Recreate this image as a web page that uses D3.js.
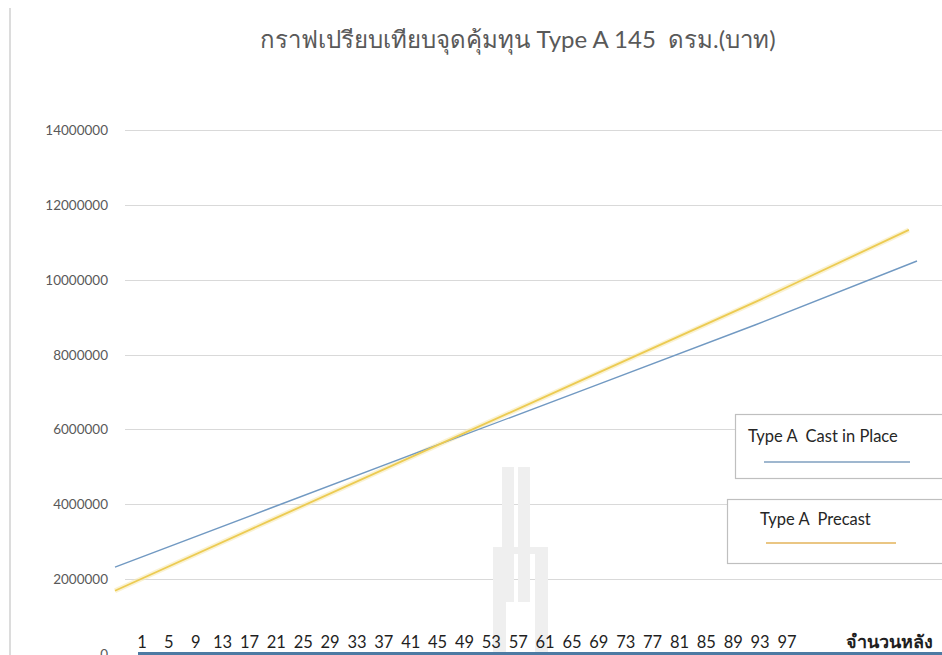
<!DOCTYPE html>
<html>
<head>
<meta charset="utf-8">
<script src="https://cdn.jsdelivr.net/npm/d3@7"></script>
<style>
  html, body { margin: 0; padding: 0; background: #fff; }
  svg { display: block; }
  text { font-family: "Lato", "Noto Sans", "DejaVu Sans", sans-serif; white-space: pre; }
</style>
</head>
<body>
<svg id="chart" width="942" height="655"></svg>
<script>
// Break-even comparison, Type A 145 sq.m. (baht)
const titleText = "กราฟเปรียบเทียบจุดคุ้มทุน Type A 145  ดรม.(บาท)";
const xAxisTitle = "จำนวนหลัง";

// category labels along the bottom axis (number of houses)
const houseTicks = [1, 5, 9, 13, 17, 21, 25, 29, 33, 37, 41, 45, 49, 53, 57, 61, 65, 69, 73, 77, 81, 85, 89, 93, 97];

// value axis ticks
const yTicks = [0, 2000000, 4000000, 6000000, 8000000, 10000000, 12000000, 14000000];

// cumulative cost by number of houses
const castHouses = [1, 20, 40, 60, 80, 100];
const castValues = [2320000, 3880000, 5520000, 7150000, 8790000, 10500000];
const precastHouses = [1, 20, 40, 60, 80, 99];
const precastValues = [1690000, 3550000, 5500000, 7450000, 9400000, 11330000];

const seriesNames = ["Type A  Cast in Place", "Type A  Precast"];
const seriesColors = ["#7199c2", "#eccb52"];
const legendLineColors = ["#7f9fbf", "#e3b35a"];

const svg = d3.select("#chart");
const W = 942, H = 655;

// faint frame line down the left edge
svg.append("line")
  .attr("x1", 10).attr("x2", 10).attr("y1", 8).attr("y2", H)
  .attr("stroke", "#dcdcdc").attr("stroke-width", 2);

const y = d3.scaleLinear().domain([0, 14000000]).range([654, 130]);
const xCat = d3.scaleLinear().domain([1, 97]).range([142, 787]);
const xLine = d3.scaleLinear().domain([1, 100]).range([115, 917]);

// gridlines
svg.append("g").selectAll("line")
  .data(yTicks.filter(d => d > 0))
  .join("line")
  .attr("x1", 125).attr("x2", W)
  .attr("y1", d => Math.round(y(d)) + 0.5).attr("y2", d => Math.round(y(d)) + 0.5)
  .attr("stroke", "#d9d9d9").attr("stroke-width", 1.2);

// y-axis labels
svg.append("g").selectAll("text")
  .data(yTicks)
  .join("text")
  .attr("x", 108)
  .attr("y", d => Math.min(y(d) + 5, 662))
  .attr("text-anchor", "end")
  .attr("font-size", 13.5)
  .attr("fill", "#595959")
  .text(d => d3.format("d")(d));

// watermark emblem (very light grey)
const wm = svg.append("g").attr("fill", "#efefef");
[[502, 467, 12, 135], [518, 467, 12, 135], [493, 547, 13, 108], [535, 547, 13, 108], [493, 547, 55, 7]]
  .forEach(r => wm.append("rect").attr("x", r[0]).attr("y", r[1]).attr("width", r[2]).attr("height", r[3]));

// series lines
const lineGen = d3.line().x(d => xLine(d[0])).y(d => y(d[1]));
const seriesData = [
  d3.zip(castHouses, castValues),
  d3.zip(precastHouses, precastValues)
];
// soft glow under the precast line
svg.append("path")
  .datum(seriesData[1])
  .attr("d", lineGen)
  .attr("fill", "none")
  .attr("stroke", "#f7eab4")
  .attr("stroke-width", 5)
  .attr("opacity", 0.6);
seriesData.forEach((s, i) => {
  svg.append("path")
    .datum(s)
    .attr("d", lineGen)
    .attr("fill", "none")
    .attr("stroke", seriesColors[i])
    .attr("stroke-width", i === 1 ? 1.8 : 1.4);
});

// bottom axis bar
svg.append("line")
  .attr("x1", 138).attr("x2", W)
  .attr("y1", 653.5).attr("y2", 653.5)
  .attr("stroke", "#4d7aa3").attr("stroke-width", 3);

// bottom category labels
svg.append("g").selectAll("text")
  .data(houseTicks)
  .join("text")
  .attr("x", d => xCat(d))
  .attr("y", 648)
  .attr("text-anchor", "middle")
  .attr("font-size", 16.5)
  .attr("fill", "#1f1f1f")
  .text(d => d);

svg.append("text")
  .attr("x", 889).attr("y", 648)
  .attr("text-anchor", "middle")
  .attr("font-size", 18)
  .attr("font-weight", "bold")
  .attr("fill", "#1f1f1f")
  .text(xAxisTitle);

// title
svg.append("text")
  .attr("x", 518).attr("y", 48)
  .attr("text-anchor", "middle")
  .attr("font-size", 24)
  .attr("fill", "#595959")
  .text(titleText);

// legend boxes
const legendBoxes = [
  { x: 735, y: 414, h: 64, tx: 748, ty: 442, lx1: 764, lx2: 910, ly: 462 },
  { x: 727, y: 499, h: 64, tx: 760, ty: 525, lx1: 766, lx2: 896, ly: 543 }
];
legendBoxes.forEach((b, i) => {
  svg.append("rect")
    .attr("x", b.x + 0.5).attr("y", b.y + 0.5)
    .attr("width", W - b.x + 5).attr("height", b.h)
    .attr("fill", "#fff").attr("stroke", "#bfbfbf").attr("stroke-width", 1.2);
  svg.append("text")
    .attr("x", b.tx).attr("y", b.ty)
    .attr("font-size", 16.5)
    .attr("fill", "#262626")
    .text(seriesNames[i]);
  svg.append("line")
    .attr("x1", b.lx1).attr("x2", b.lx2)
    .attr("y1", b.ly).attr("y2", b.ly)
    .attr("stroke", legendLineColors[i]).attr("stroke-width", 1.5);
});
</script>
</body>
</html>
